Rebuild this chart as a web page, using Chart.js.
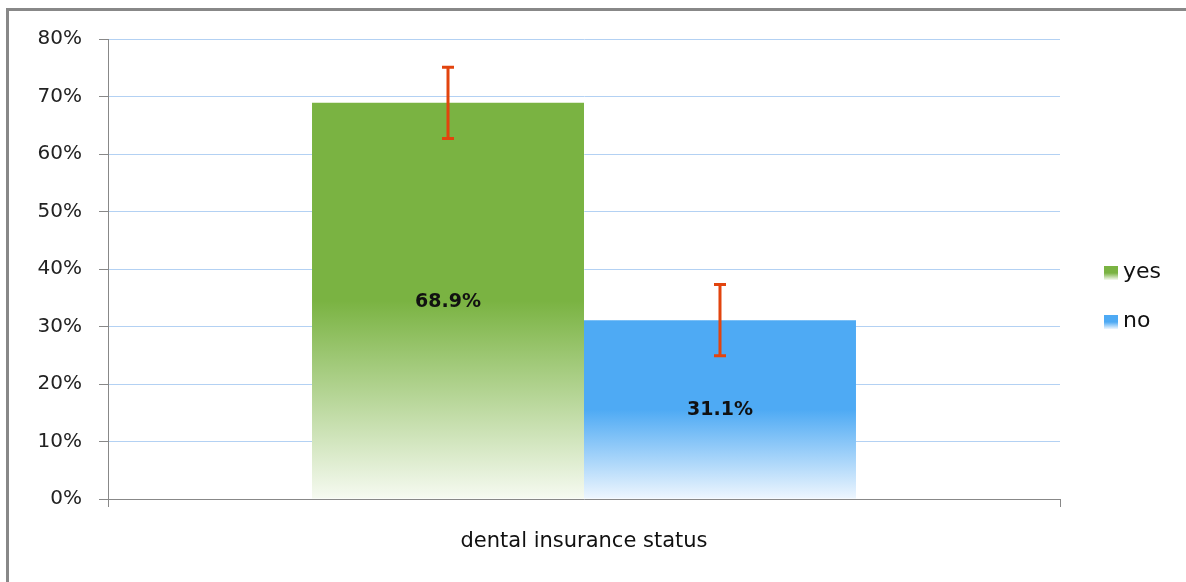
<!DOCTYPE html>
<html>
<head>
<meta charset="utf-8">
<script src="https://cdn.jsdelivr.net/npm/chart.js@4.4.1/dist/chart.umd.min.js"></script>
<style>
  html, body { margin: 0; padding: 0; background: #fff; }
  #wrap { position: relative; width: 1186px; height: 582px; }
  #frame { position: absolute; left: 6px; top: 8px; right: 0; bottom: 0; border-top: 3px solid #888; border-left: 3px solid #888; pointer-events: none; }
  canvas { position: absolute; left: 0; top: 0; }
</style>
</head>
<body>
<div id="wrap">
  <canvas id="c" width="1186" height="582"></canvas>
  <div id="frame"></div>
</div>
<script>
const categories = ['dental insurance status'];
const seriesNames = ['yes', 'no'];
const yesValues = [68.9];
const noValues = [31.1];
const yesErrors = [6.2];
const noErrors = [6.2];
const yTicks = [0, 10, 20, 30, 40, 50, 60, 70, 80];

const solidColors = ['#7ab342', '#4eaaf4'];
const fadeColors = ['#f6faf1', '#eef6fe'];

function barGradient(ctx, chart, di, value) {
  const y = chart.scales.y;
  const top = y.getPixelForValue(value);
  const bottom = y.getPixelForValue(0);
  const g = ctx.createLinearGradient(0, top, 0, bottom);
  g.addColorStop(0, solidColors[di]);
  g.addColorStop(0.5, solidColors[di]);
  g.addColorStop(1, fadeColors[di]);
  return g;
}

const errorPlugin = {
  id: 'errs',
  afterDatasetsDraw(chart) {
    const ctx = chart.ctx;
    const y = chart.scales.y;
    ctx.save();
    chart.data.datasets.forEach((ds, di) => {
      const meta = chart.getDatasetMeta(di);
      meta.data.forEach((bar, i) => {
        const v = ds.data[i];
        const e = ds.errors[i];
        const x = bar.x;
        const yt = y.getPixelForValue(v + e);
        const yb = y.getPixelForValue(v - e);
        ctx.strokeStyle = '#e2440e';
        ctx.lineWidth = 3;
        ctx.beginPath();
        ctx.moveTo(x, yt); ctx.lineTo(x, yb);
        ctx.moveTo(x - 6, yt); ctx.lineTo(x + 6, yt);
        ctx.moveTo(x - 6, yb); ctx.lineTo(x + 6, yb);
        ctx.stroke();
      });
    });
    ctx.restore();
  }
};

const labelPlugin = {
  id: 'vals',
  afterDatasetsDraw(chart) {
    const ctx = chart.ctx;
    ctx.save();
    ctx.font = 'bold 19px "DejaVu Sans"';
    ctx.fillStyle = '#111';
    ctx.textAlign = 'center';
    ctx.textBaseline = 'middle';
    chart.data.datasets.forEach((ds, di) => {
      const meta = chart.getDatasetMeta(di);
      meta.data.forEach((bar, i) => {
        const cy = (bar.y + bar.base) / 2;
        ctx.fillText(ds.data[i].toFixed(1) + '%', bar.x, cy + 1);
      });
    });
    ctx.restore();
  }
};

const legendPlugin = {
  id: 'leg',
  afterDraw(chart) {
    const ctx = chart.ctx;
    ctx.save();
    const x0 = 1104, size = 14;
    const ys = [273, 322];
    chart.data.datasets.forEach((ds, di) => {
      const cy = ys[di];
      const g = ctx.createLinearGradient(0, cy - 7, 0, cy + 7);
      g.addColorStop(0, solidColors[di]);
      g.addColorStop(0.5, solidColors[di]);
      g.addColorStop(1, fadeColors[di]);
      ctx.fillStyle = g;
      ctx.fillRect(x0, cy - 7, size, size);
      ctx.fillStyle = '#111';
      ctx.font = '22px "DejaVu Sans"';
      ctx.textAlign = 'left';
      ctx.textBaseline = 'middle';
      ctx.fillText(ds.label, x0 + 19, cy - 1);
    });
    ctx.restore();
  }
};

new Chart(document.getElementById('c'), {
  type: 'bar',
  data: {
    labels: categories,
    datasets: [
      {
        label: seriesNames[0],
        data: yesValues,
        errors: yesErrors,
        backgroundColor: (c) => c.chart.chartArea ? barGradient(c.chart.ctx, c.chart, 0, yesValues[c.dataIndex] || 0) : solidColors[0]
      },
      {
        label: seriesNames[1],
        data: noValues,
        errors: noErrors,
        backgroundColor: (c) => c.chart.chartArea ? barGradient(c.chart.ctx, c.chart, 1, noValues[c.dataIndex] || 0) : solidColors[1]
      }
    ]
  },
  options: {
    responsive: false,
    animation: false,
    devicePixelRatio: 1,
    layout: { padding: { top: 39, right: 126, bottom: 0, left: 0 } },
    datasets: { bar: { categoryPercentage: 0.5714, barPercentage: 1 } },
    plugins: { legend: { display: false }, tooltip: { enabled: false } },
    scales: {
      x: {
        afterFit(s) { s.height = 83; },
        grid: { offset: true, drawOnChartArea: false, tickLength: 8, tickColor: '#888', lineWidth: 1 },
        border: { color: '#888', width: 1 },
        ticks: { font: { family: 'DejaVu Sans', size: 21 }, color: '#111', padding: 22 }
      },
      y: {
        min: 0, max: 80,
        afterFit(s) { s.width = 108; },
        afterBuildTicks(s) { s.ticks = yTicks.map(v => ({ value: v })); },
        grid: { color: '#b3d1f3', tickColor: '#888', tickLength: 9, lineWidth: 1 },
        border: { color: '#888', width: 1 },
        ticks: { font: { family: 'DejaVu Sans', size: 20 }, color: '#222', padding: 17, callback: (v) => v + '%' }
      }
    }
  },
  plugins: [errorPlugin, labelPlugin, legendPlugin]
});
</script>
</body>
</html>
